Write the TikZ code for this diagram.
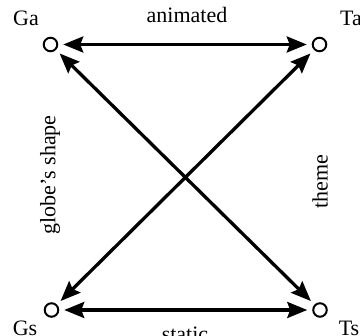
\documentclass[tikz,border=0pt]{standalone}
\usepackage{fontspec}
\setmainfont{Liberation Serif}
\usetikzlibrary{arrows.meta}
\tikzset{
  vert/.style={circle,draw,line width=2pt,minimum size=13.5pt,inner sep=0pt,fill=white},
  lbl/.style={font=\fontsize{22}{24}\selectfont,inner sep=0pt},
  rlbl/.style={font=\fontsize{22}{24}\selectfont,inner sep=0pt,rotate=90},
  link/.style={line width=3.3pt,{Stealth[length=20pt,width=16pt,inset=3pt]}-{Stealth[length=20pt,width=16pt,inset=3pt]},shorten <=5pt,shorten >=5pt}
}
\begin{document}
\begin{tikzpicture}[x=1pt,y=-1pt]
\useasboundingbox[fill=white] (0,0) rectangle (360,336);
\node[vert] (Ga) at (50.5,44.5) {};
\node[vert] (Ta) at (319.5,44.5) {};
\node[vert] (Gs) at (51.5,310) {};
\node[vert] (Ts) at (320,310) {};
\draw[link] (Ga) -- (Ta);
\draw[link] (Gs) -- (Ts);
\draw[link] (Ga) -- (Ts);
\draw[link] (Gs) -- (Ta);
\node[lbl] (lGa) at (26,18) {Ga};
\node[lbl] (lTa) at (351,18) {Ta};
\node[lbl] (lGs) at (25,328) {Gs};
\node[lbl] (lTs) at (349,328) {Ts};
\node[lbl] (anim) at (187,15) {animated};
\node[lbl] (stat) at (185,334) {static};
\node[rlbl] (globe) at (50,175) {globe's shape};
\node[rlbl] (theme) at (320,182) {theme};
\end{tikzpicture}
\end{document}
